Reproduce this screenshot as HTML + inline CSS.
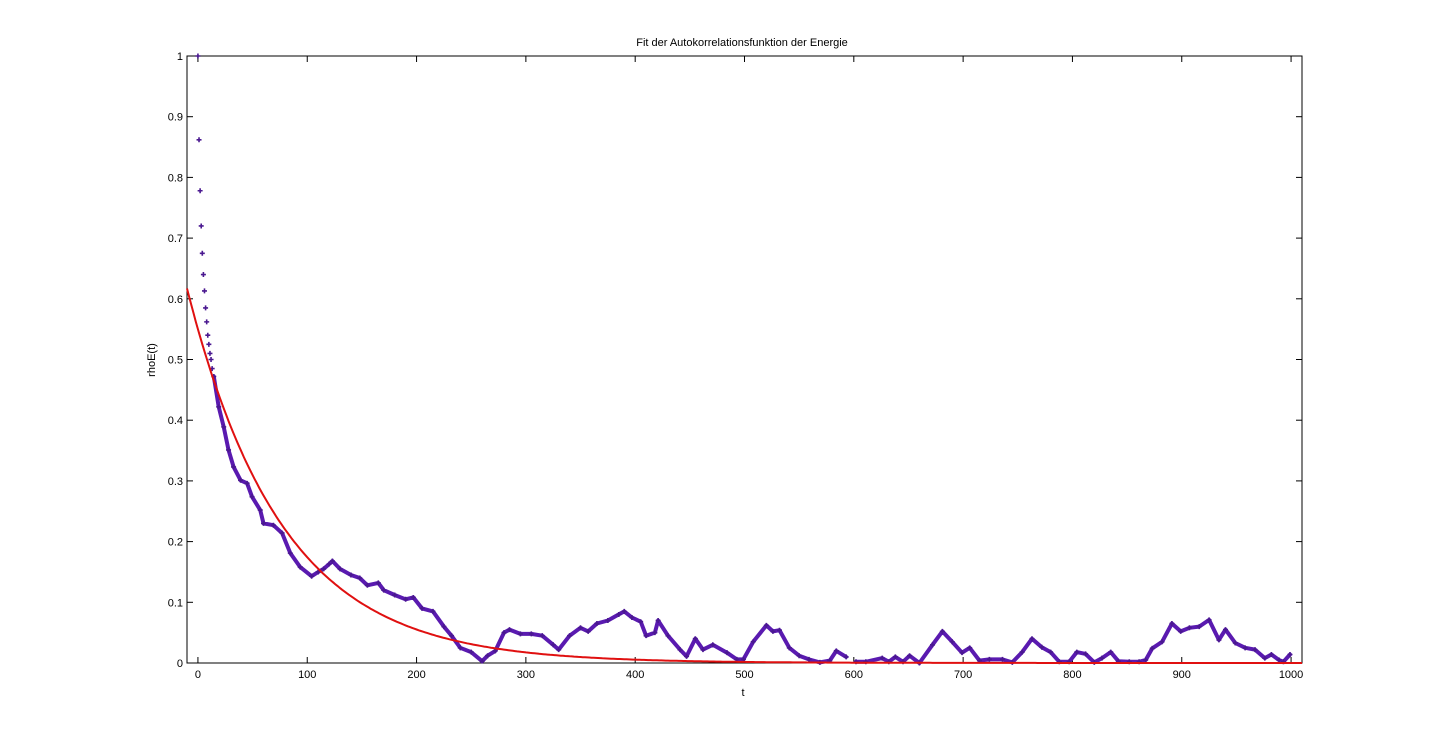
<!DOCTYPE html>
<html><head><meta charset="utf-8"><style>
body{margin:0;background:#fff;}
svg{display:block;font-family:"Liberation Sans",sans-serif;}
</style></head><body>
<svg id="chart" width="1440" height="745" viewBox="0 0 1440 745">
<rect x="0" y="0" width="1440" height="745" fill="#fff"/>
<text x="742" y="46" font-size="11" text-anchor="middle">Fit der Autokorrelationsfunktion der Energie</text>
<text x="743" y="696" font-size="11" text-anchor="middle">t</text>
<text x="0" y="0" font-size="11" text-anchor="middle" transform="translate(155,360) rotate(-90)">rhoE(t)</text>
<g id="grid"></g>
<g id="series"></g>
</svg>
<script>
const xTicks=[0,100,200,300,400,500,600,700,800,900,1000];
const yTicks=[0,0.1,0.2,0.3,0.4,0.5,0.6,0.7,0.8,0.9,1];
const yTickLabels=["0","0.1","0.2","0.3","0.4","0.5","0.6","0.7","0.8","0.9","1"];
const sampleT=[0,1,2,3,4,5,6,7,8,9,10,11,12,13,14.5,19,23.6,28,32.6,39,45,49.5,57,60,69,77,84.5,93.6,104,110,115,120,123,130,140,148,155,165,170,180,190,197,205,215,225,232,240,250,260,265,272,280,285,295,305,315,325,330,340,350,357,365,375,385,390,397,405,410,418,421,430,441,447,455,462,471,484,493,499,508,520,526,532,541,550,559,569,578,584,593,602,611,626,632,638,645,651,660,672,681,690,699,706,715,724,736,745,754,763,772,780,788,797,804,812,820,827,835,842,852,861,867,873,882,891,899,907,916,925,934,940,949,958,967,976,982,989,993,999];
const sampleV=[1,0.862,0.778,0.72,0.675,0.64,0.613,0.585,0.562,0.54,0.525,0.51,0.5,0.485,0.472,0.422,0.389,0.351,0.323,0.301,0.296,0.274,0.252,0.23,0.227,0.214,0.181,0.158,0.143,0.15,0.155,0.163,0.168,0.155,0.145,0.14,0.128,0.132,0.12,0.112,0.105,0.108,0.09,0.085,0.06,0.045,0.025,0.018,0.003,0.012,0.02,0.05,0.055,0.048,0.048,0.045,0.03,0.022,0.045,0.058,0.052,0.065,0.07,0.08,0.085,0.075,0.068,0.045,0.05,0.07,0.045,0.022,0.011,0.04,0.022,0.03,0.017,0.006,0.006,0.035,0.062,0.052,0.054,0.025,0.012,0.006,0.001,0.004,0.02,0.01,0.002,0.002,0.008,0.002,0.01,0.002,0.012,0.0,0.03,0.052,0.035,0.017,0.025,0.004,0.006,0.006,0.001,0.018,0.04,0.026,0.018,0.002,0.002,0.018,0.015,0.001,0.008,0.018,0.003,0.002,0.002,0.005,0.024,0.035,0.065,0.052,0.058,0.06,0.071,0.038,0.055,0.033,0.025,0.022,0.008,0.014,0.005,0.002,0.014];
const gapStart=[594];
const gapEnd=[601];
const fitA=[0.55];
const fitTau=[87];
const NS="http://www.w3.org/2000/svg";
const L=187,R=1302,T=56,B=663;
function xs(t){return L+(t+10)/1020*(R-L);}
function ys(v){return B-v*(B-T);}
function mk(tag,attrs,parent){const e=document.createElementNS(NS,tag);for(const k in attrs)e.setAttribute(k,attrs[k]);parent.appendChild(e);return e;}
const grid=document.getElementById('grid'),series=document.getElementById('series');
const frame=mk('rect',{x:L,y:T,width:R-L,height:B-T,fill:'none',stroke:'#000','stroke-width':1},grid);


xTicks.forEach(t=>{const x=xs(t);
 const a=mk('line',{x1:x,y1:B,x2:x,y2:B-6,stroke:'#000'},grid);
 
 
 const b=mk('line',{x1:x,y1:T,x2:x,y2:T+6,stroke:'#000'},grid);
 
 
 const tx=mk('text',{x:x,y:B+15,'font-size':11,'text-anchor':'middle'},grid);tx.textContent=t;
 
 
});
yTicks.forEach((v,i)=>{const y=ys(v);
 const a=mk('line',{x1:L,y1:y,x2:L+6,y2:y,stroke:'#000'},grid);
 
 
 const b=mk('line',{x1:R,y1:y,x2:R-6,y2:y,stroke:'#000'},grid);
 
 
 const tx=mk('text',{x:L-4,y:y+4,'font-size':11,'text-anchor':'end'},grid);tx.textContent=yTickLabels[i];
 
 
});
function crossesGap(a,b){for(let g=0;g<gapStart.length;g++){if(a<=gapStart[g]&&b>=gapEnd[g])return true;}return false;}
let d='';let prev=null;
for(let i=0;i<sampleT.length;i++){
 const t=sampleT[i];
 if(t<14){continue;}
 const cont=prev!==null&&!crossesGap(prev,t);
 d+=(cont?'L':'M')+xs(t).toFixed(1)+' '+ys(sampleV[i]).toFixed(1)+' ';
 prev=t;
}
const dl=mk('path',{d:d,fill:'none',stroke:'#5a1ab0','stroke-width':4,'stroke-linejoin':'round','stroke-linecap':'round'},series);


sampleT.forEach((t,i)=>{const x=xs(t),y=ys(sampleV[i]);
 const p=mk('path',{d:`M${x-2.5} ${y}H${x+2.5}M${x} ${y-2.5}V${y+2.5}`,stroke:'#4a1890','stroke-width':1.6},series);
 
 
});
let f='';
for(let t=-10;t<=1010;t+=2){f+=(t===-10?'M':'L')+xs(t).toFixed(1)+' '+ys(fitA[0]*Math.exp(-t/fitTau[0])).toFixed(1)+' ';}
const fl=mk('path',{d:f,fill:'none',stroke:'#e01010','stroke-width':2},series);


</script>
</body></html>
